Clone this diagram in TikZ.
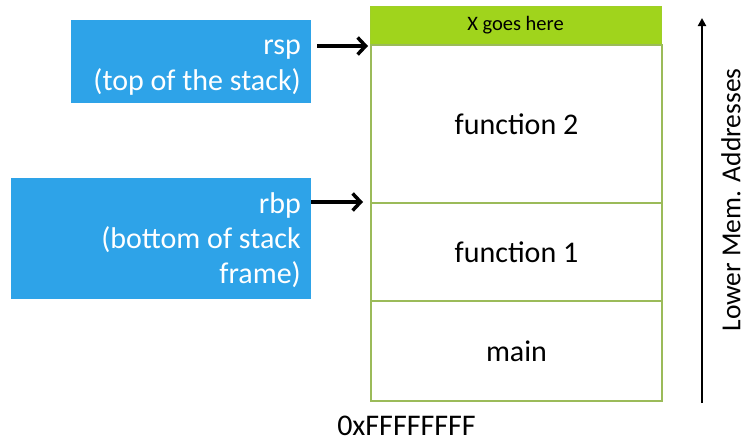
\documentclass[tikz,border=0pt]{standalone}
\usepackage{fontspec}
\setmainfont{Carlito}
\usetikzlibrary{arrows.meta}
\definecolor{blueBox}{RGB}{46,163,232}
\definecolor{limeBar}{RGB}{160,212,28}
\definecolor{greenLine}{RGB}{155,187,89}
\tikzset{
  bluebox/.style={fill=blueBox, draw=none, inner sep=0pt, anchor=north west},
  wtext/.style={text=white, font=\fontsize{30}{36}\selectfont, anchor=base east, inner sep=0pt},
  cell/.style={draw=greenLine, line width=2pt, minimum width=291pt, inner sep=0pt, anchor=north west, font=\fontsize{30}{36}\selectfont},
  pointer/.style={line width=3.5pt, -{Straight Barb[length=8pt,width=17pt,line width=3.5pt]}},
}
\begin{document}
\begin{tikzpicture}[x=1pt,y=-1pt]
\useasboundingbox (0,0) rectangle (748,442);
% blue labels
\node[bluebox, minimum width=240pt, minimum height=83pt] (rspbox) at (71,20) {};
\node[wtext] (rsptxt) at (301,54) {rsp};
\node[wtext] (rsptxt2) at (301,90) {(top of the stack)};
\node[bluebox, minimum width=300pt, minimum height=121pt] (rbpbox) at (11,178) {};
\node[wtext] (rbptxt) at (301,213) {rbp};
\node[wtext] (rbptxt2) at (301,248) {(bottom of stack};
\node[wtext] (rbptxt3) at (301,283) {frame)};
% stack
\node[cell, fill=limeBar, draw=limeBar!80!greenLine, line width=1pt, minimum height=38pt, font=\fontsize{20.5}{24}\selectfont] (xbar) at (369.5,6) {X goes here};
\node[cell, minimum height=158pt] (f2) at (370,44) {function 2};
\node[cell, minimum height=98pt] (f1) at (370,202) {function 1};
\node[cell, minimum height=100pt] (mainc) at (370,300) {main};
\node[font=\fontsize{30}{36}\selectfont, inner sep=0pt] (addr) at (406.5,426) {0xFFFFFFFF};
% pointers
\coordinate (rsptip) at ([yshift=-2pt]f2.north west);
\draw[pointer] ([xshift=6pt]rspbox.east |- rsptip) -- ([xshift=-2pt]rsptip);
\draw[pointer] (rbpbox.east |- f1.north west) -- ([xshift=-7pt]f1.north west);
% address arrow
\coordinate (abot) at (702,403);
\coordinate (atop) at (702,18);
\draw[line width=2pt, -{Triangle[length=8pt,width=8pt]}] (abot) -- (atop);
\node[rotate=90, font=\fontsize{27.5}{33}\selectfont, inner sep=0pt] (lower) at (731,200) {Lower Mem. Addresses};
\end{tikzpicture}
\end{document}
